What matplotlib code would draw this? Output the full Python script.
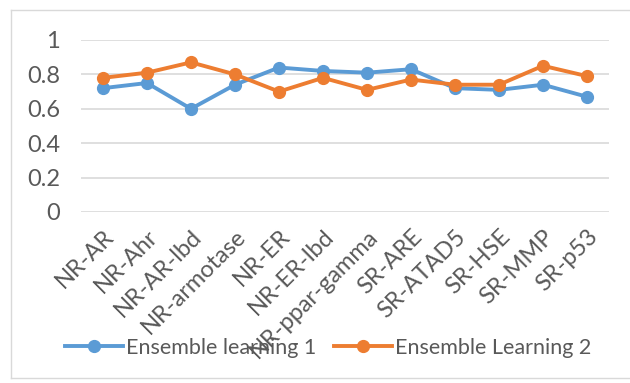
import matplotlib.pyplot as plt
from matplotlib.lines import Line2D

categories = ['NR-AR', 'NR-Ahr', 'NR-AR-lbd', 'NR-armotase', 'NR-ER', 'NR-ER-lbd',
              'NR-ppar-gamma', 'SR-ARE', 'SR-ATAD5', 'SR-HSE', 'SR-MMP', 'SR-p53']
ensemble1 = [0.72, 0.75, 0.60, 0.74, 0.84, 0.82, 0.81, 0.83, 0.72, 0.71, 0.74, 0.67]
ensemble2 = [0.78, 0.81, 0.87, 0.80, 0.70, 0.78, 0.71, 0.77, 0.74, 0.74, 0.85, 0.79]
yticks = [0, 0.2, 0.4, 0.6, 0.8, 1]
ytick_labels = ['0', '0.2', '0.4', '0.6', '0.8', '1']

plt.rcParams['font.family'] = ['Lato', 'DejaVu Sans']
grey = '#595959'

fig = plt.figure(figsize=(6.3, 3.83), dpi=100)
# chart border (top, left, bottom visible in the reference)
fig.lines.append(Line2D([11 / 630, 1], [1 - 10 / 383] * 2, transform=fig.transFigure,
                        color='#D9D9D9', lw=1))
fig.lines.append(Line2D([11 / 630] * 2, [5 / 383, 1 - 10 / 383], transform=fig.transFigure,
                        color='#D9D9D9', lw=1))
fig.lines.append(Line2D([11 / 630, 1], [5 / 383] * 2, transform=fig.transFigure,
                        color='#D9D9D9', lw=1))

ax = fig.add_axes([81 / 630, 1 - 212 / 383, 528 / 630, 172 / 383])

x = range(len(categories))
ax.plot(x, ensemble1, color='#5B9BD5', lw=2.8, marker='o', ms=8.5,
        label='Ensemble learning 1')
ax.plot(x, ensemble2, color='#ED7D31', lw=2.8, marker='o', ms=8.5,
        label='Ensemble Learning 2')

ax.set_xlim(-0.5, len(categories) - 0.5)
ax.set_ylim(0, 1)
ax.set_yticks(yticks)
ax.set_yticklabels(ytick_labels)
ax.set_xticks(list(x))
ax.set_xticklabels(categories, rotation=45, ha='right', rotation_mode='anchor')
ax.tick_params(length=0, colors=grey)
ax.tick_params(axis='y', pad=15, labelsize=17)
ax.tick_params(axis='x', pad=10, labelsize=17)
ax.grid(axis='y', color='#D9D9D9', lw=1.2)
ax.set_axisbelow(True)
for s in ax.spines.values():
    s.set_visible(False)

leg = fig.legend(loc='center', bbox_to_anchor=(328 / 630, 1 - 348 / 383), ncol=2,
                 frameon=False, fontsize=15.5, handlelength=2.7,
                 handletextpad=0.15, columnspacing=0.8)
for t in leg.get_texts():
    t.set_color(grey)

fig.savefig('out.png', dpi=100)
